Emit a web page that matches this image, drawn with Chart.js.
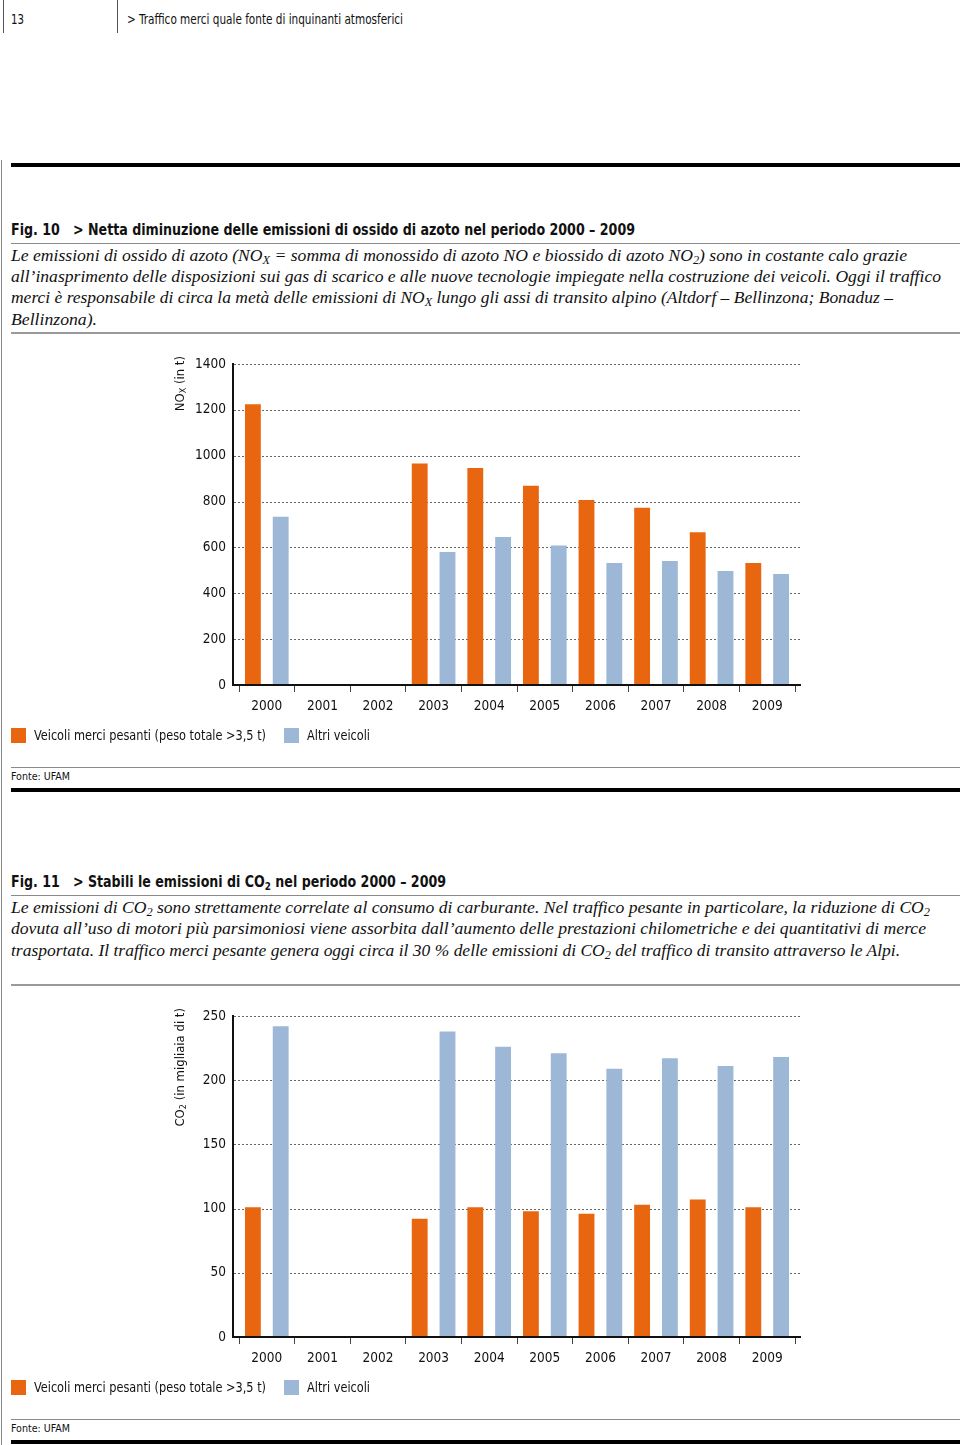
<!DOCTYPE html>
<html>
<head>
<meta charset="utf-8">
<script src="https://cdn.jsdelivr.net/npm/chart.js@4"></script>
<style>
  body { margin: 0; background: #fff; }
  #page { position: relative; width: 960px; height: 1445px; overflow: hidden; }
  .t { position: absolute; white-space: nowrap; transform-origin: left center; color: #111; line-height: 20px; }
  .sans { font-family: "DejaVu Sans Condensed", "DejaVu Sans", sans-serif; font-stretch: condensed; }
  .bold { font-weight: bold; }
  .serif { font-family: "Liberation Serif", "DejaVu Serif", serif; font-style: italic; font-size: 17px; }
  .rule { position: absolute; left: 11px; right: 0; }
  .thin { height: 1px; background: #8a8a8a; }
  .mid { height: 2px; background: #9a9a9a; }
  .thick { height: 4px; background: #000; }
  .vline { position: absolute; background: #555; width: 1px; }
  .sw { position: absolute; width: 15px; height: 15px; }
  sub { font-size: 70%; vertical-align: -3px; line-height: 0; }
  canvas { position: absolute; left: 0; }
</style>
</head>
<body>
<div id="page">
  <div class="vline" style="left:3px;top:0;height:33px"></div>
  <div class="vline" style="left:117px;top:0;height:33px"></div>
  <div class="vline" style="left:1px;top:160px;height:1285px;background:#888"></div>
  <div class="t sans" style="left:11px;top:9px;font-size:13.5px" data-w="13">13</div>
  <div class="t sans" style="left:127px;top:9px;font-size:13.5px" data-w="276">&gt; Traffico merci quale fonte di inquinanti atmosferici</div>

  <div class="rule thick" style="top:163px"></div>

  <div class="t sans bold" style="left:11px;top:220px;font-size:16px" data-w="624">Fig. 10&nbsp;&nbsp;&nbsp;&gt; Netta diminuzione delle emissioni di ossido di azoto nel periodo 2000 – 2009</div>
  <div class="rule thin" style="top:243px"></div>
  <div class="t serif" style="left:11px;top:246px" data-w="896">Le emissioni di ossido di azoto (NO<sub>X</sub> = somma di monossido di azoto NO e biossido di azoto NO<sub>2</sub>) sono in costante calo grazie</div>
  <div class="t serif" style="left:11px;top:267px" data-w="930">all’inasprimento delle disposizioni sui gas di scarico e alle nuove tecnologie impiegate nella costruzione dei veicoli. Oggi il traffico</div>
  <div class="t serif" style="left:11px;top:288px" data-w="882">merci è responsabile di circa la metà delle emissioni di NO<sub>X</sub> lungo gli assi di transito alpino (Altdorf – Bellinzona; Bonaduz –</div>
  <div class="t serif" style="left:11px;top:310px" data-w="86">Bellinzona).</div>
  <div class="rule mid" style="top:332px"></div>

  <canvas id="noxChart" width="960" height="390" style="top:340px"></canvas>

  <div class="sw" style="left:11px;top:728px;background:#e8660f"></div>
  <div class="t sans" style="left:34px;top:725px;font-size:14px" data-w="232">Veicoli merci pesanti (peso totale &gt;3,5 t)</div>
  <div class="sw" style="left:284px;top:728px;background:#9db7d6"></div>
  <div class="t sans" style="left:307px;top:725px;font-size:14px" data-w="63">Altri veicoli</div>
  <div class="rule thin" style="top:767px"></div>
  <div class="t sans" style="left:11px;top:767px;font-size:11px" data-w="59">Fonte: UFAM</div>
  <div class="rule thick" style="top:788px"></div>

  <div class="t sans bold" style="left:11px;top:872px;font-size:16px" data-w="435">Fig. 11&nbsp;&nbsp;&nbsp;&gt; Stabili le emissioni di CO<sub>2</sub> nel periodo 2000 – 2009</div>
  <div class="rule thin" style="top:895px"></div>
  <div class="t serif" style="left:11px;top:898px" data-w="919">Le emissioni di CO<sub>2</sub> sono strettamente correlate al consumo di carburante. Nel traffico pesante in particolare, la riduzione di CO<sub>2</sub></div>
  <div class="t serif" style="left:11px;top:919px" data-w="915">dovuta all’uso di motori più parsimoniosi viene assorbita dall’aumento delle prestazioni chilometriche e dei quantitativi di merce</div>
  <div class="t serif" style="left:11px;top:941px" data-w="889">trasportata. Il traffico merci pesante genera oggi circa il 30 % delle emissioni di CO<sub>2</sub> del traffico di transito attraverso le Alpi.</div>
  <div class="rule mid" style="top:984px"></div>

  <canvas id="co2Chart" width="960" height="390" style="top:992px"></canvas>

  <div class="sw" style="left:11px;top:1380px;background:#e8660f"></div>
  <div class="t sans" style="left:34px;top:1377px;font-size:14px" data-w="232">Veicoli merci pesanti (peso totale &gt;3,5 t)</div>
  <div class="sw" style="left:284px;top:1380px;background:#9db7d6"></div>
  <div class="t sans" style="left:307px;top:1377px;font-size:14px" data-w="63">Altri veicoli</div>
  <div class="rule thin" style="top:1419px"></div>
  <div class="t sans" style="left:11px;top:1419px;font-size:11px" data-w="59">Fonte: UFAM</div>
  <div class="rule thick" style="top:1440px"></div>
</div>

<script>
// values
var years = ["2000", "2001", "2002", "2003", "2004", "2005", "2006", "2007", "2008", "2009"];
var noxHeavy = [1225, null, null, 966, 946, 869, 807, 773, 666, 532];
var noxOther = [734, null, null, 580, 645, 608, 532, 541, 497, 484];
var co2Heavy = [101, null, null, 92, 101, 98, 96, 103, 107, 101];
var co2Other = [242, null, null, 238, 226, 221, 209, 217, 211, 218];
var seriesNames = ["Veicoli merci pesanti (peso totale >3,5 t)", "Altri veicoli"];

var orange = "#e8660f";
var blue = "#9db7d6";
var fontFamily = '"DejaVu Sans Condensed", "DejaVu Sans", sans-serif';

// fit html text lines to the widths in the original
document.querySelectorAll("[data-w]").forEach(function (el) {
  var w = el.getBoundingClientRect().width;
  el.style.transform = "scaleX(" + (el.dataset.w / w) + ")";
});

// dotted grid, black axes and rotated axis title
var framePlugin = {
  id: "frame",
  beforeDatasetsDraw: function (chart) {
    var ctx = chart.ctx, a = chart.chartArea, y = chart.scales.y;
    ctx.save();
    ctx.strokeStyle = "#666";
    ctx.lineWidth = 1;
    ctx.setLineDash([2, 2]);
    y.ticks.forEach(function (t) {
      if (t.value === 0) return;
      var py = Math.round(y.getPixelForValue(t.value)) + 0.5;
      ctx.beginPath();
      ctx.moveTo(a.left - 5, py);
      ctx.lineTo(a.right + 6, py);
      ctx.stroke();
    });
    ctx.restore();
  },
  afterDatasetsDraw: function (chart, args, opts) {
    var ctx = chart.ctx, a = chart.chartArea;
    ctx.save();
    ctx.strokeStyle = "#111";
    ctx.lineWidth = 2;
    ctx.beginPath();
    ctx.moveTo(a.left - 6, a.top - 1);
    ctx.lineTo(a.left - 6, a.bottom + 1);
    ctx.moveTo(a.left - 7, a.bottom);
    ctx.lineTo(a.right + 6, a.bottom);
    ctx.stroke();

    // axis title, reads bottom to top and ends just above the top line
    var parts = opts.title;
    var big = "13px " + fontFamily, small = "9px " + fontFamily;
    var total = 0;
    parts.forEach(function (p) {
      ctx.font = p[1] ? small : big;
      total += ctx.measureText(p[0]).width;
    });
    ctx.translate(181, a.top - 8);
    ctx.rotate(-Math.PI / 2);
    ctx.fillStyle = "#111";
    ctx.textBaseline = "middle";
    var x = -total;
    parts.forEach(function (p) {
      ctx.font = p[1] ? small : big;
      ctx.fillText(p[0], x, p[1] ? 3 : 0);
      x += ctx.measureText(p[0]).width;
    });
    ctx.restore();
  }
};

function makeChart(id, heavy, other, yMax, yStep, title) {
  var ctx = document.getElementById(id).getContext("2d");
  return new Chart(ctx, {
    type: "bar",
    data: {
      labels: years,
      datasets: [
        { label: seriesNames[0], data: heavy, backgroundColor: orange, borderWidth: 0, barPercentage: 0.57, categoryPercentage: 1 },
        { label: seriesNames[1], data: other, backgroundColor: blue, borderWidth: 0, barPercentage: 0.57, categoryPercentage: 1 }
      ]
    },
    options: {
      responsive: false,
      animation: false,
      layout: { padding: { left: 0, right: 165, top: 24, bottom: 10 } },
      plugins: {
        legend: { display: false },
        tooltip: { enabled: false },
        frame: { title: title }
      },
      scales: {
        x: {
          offset: true,
          grid: { display: true, drawOnChartArea: false, drawTicks: true, tickLength: 7, color: "#444", offset: true },
          border: { display: false },
          ticks: { color: "#111", font: { family: fontFamily, size: 13.5 }, padding: 6, maxRotation: 0 },
          afterFit: function (s) { s.height = 35; }
        },
        y: {
          min: 0,
          max: yMax,
          grid: { display: false, drawTicks: false },
          border: { display: false },
          ticks: {
            stepSize: yStep,
            color: "#111",
            font: { family: fontFamily, size: 13.5 },
            padding: 13,
            callback: function (v) { return String(v); }
          },
          afterFit: function (s) { s.width = 239; }
        }
      }
    },
    plugins: [framePlugin]
  });
}

makeChart("noxChart", noxHeavy, noxOther, 1400, 200, [["NO", false], ["X", true], [" (in t)", false]]);
makeChart("co2Chart", co2Heavy, co2Other, 250, 50, [["CO", false], ["2", true], [" (in migliaia di t)", false]]);
</script>
</body>
</html>
